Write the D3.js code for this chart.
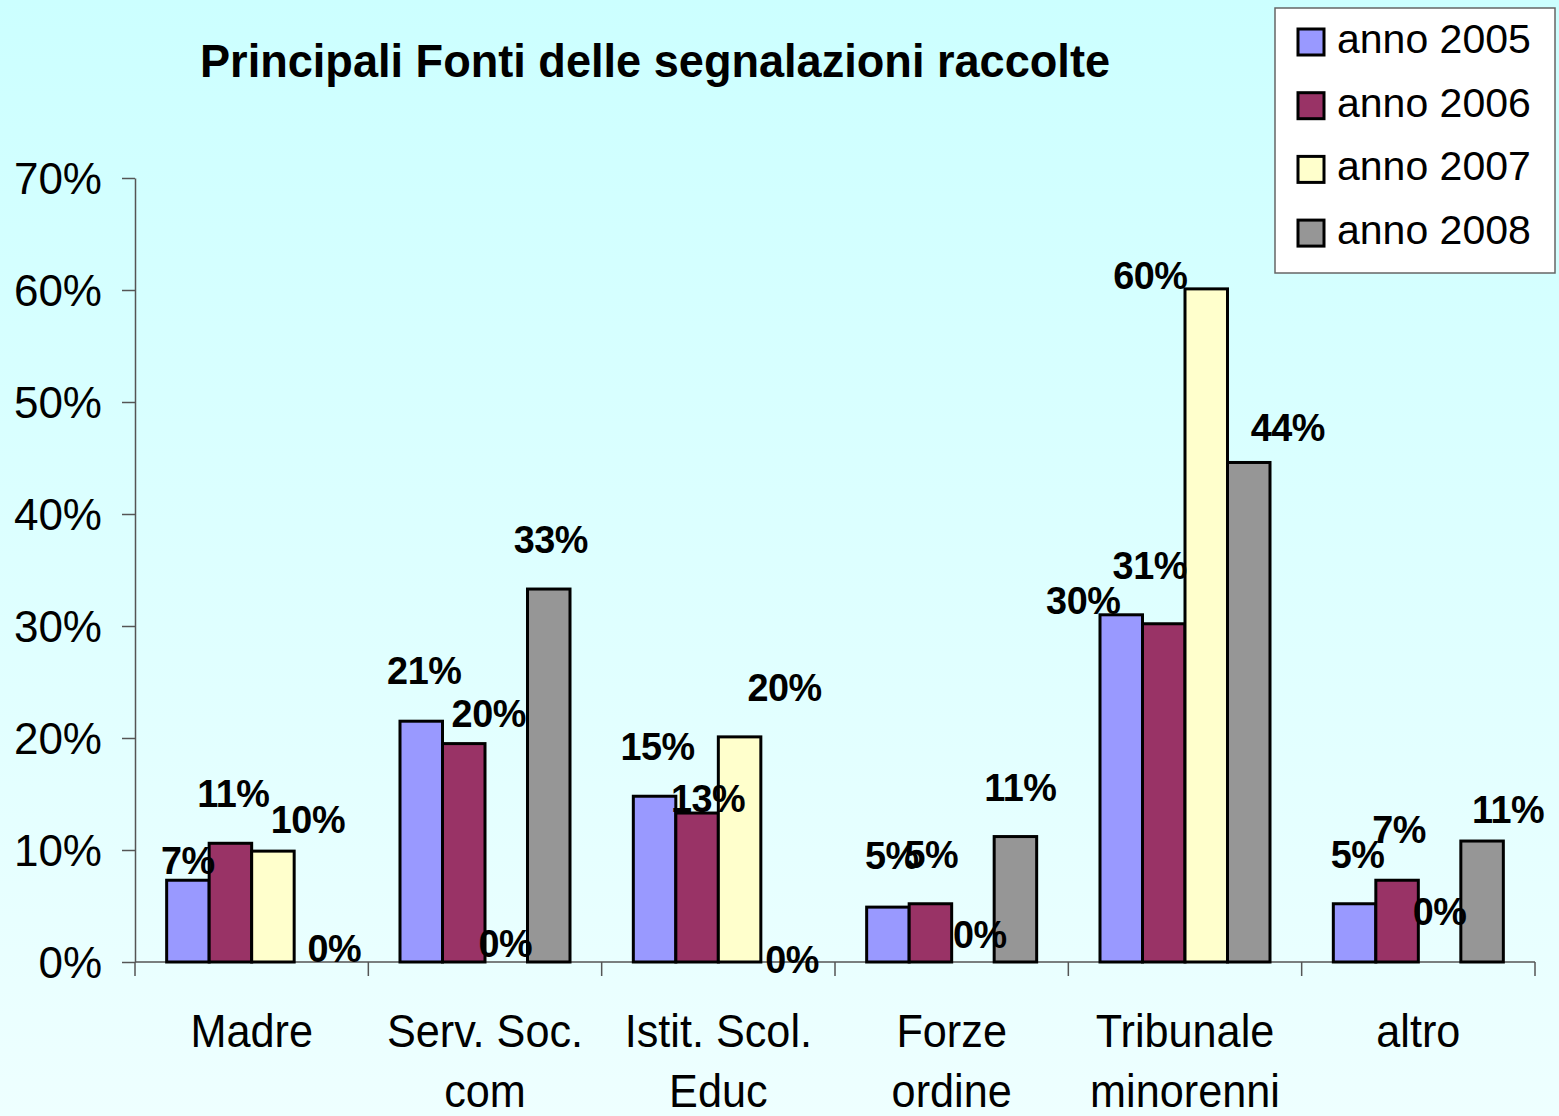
<!DOCTYPE html>
<html>
<head>
<meta charset="utf-8">
<script src="https://cdn.jsdelivr.net/npm/d3@7"></script>
<style>
  html, body { margin: 0; padding: 0; overflow: hidden; }
  svg { display: block; }
  text { font-family: "Liberation Sans", Arial, sans-serif; fill: #000; }
</style>
</head>
<body>
<script>
// ---- data ----
const categories = [["Madre"], ["Serv. Soc.", "com"], ["Istit. Scol.", "Educ"], ["Forze", "ordine"], ["Tribunale", "minorenni"], ["altro"]];
const seriesNames = ["anno 2005", "anno 2006", "anno 2007", "anno 2008"];
const s2005 = [7.3, 21.5, 14.8, 4.9, 31.0, 5.2];
const s2006 = [10.6, 19.5, 13.3, 5.2, 30.2, 7.3];
const s2007 = [9.9, 0, 20.1, 0, 60.1, 0];
const s2008 = [0, 33.3, 0, 11.2, 44.6, 10.8];
const l2005 = ["7%", "21%", "15%", "5%", "30%", "5%"];
const l2006 = ["11%", "20%", "13%", "5%", "31%", "7%"];
const l2007 = ["10%", "0%", "20%", "0%", "60%", "0%"];
const l2008 = ["0%", "33%", "0%", "11%", "44%", "11%"];
const yTicks = [0, 10, 20, 30, 40, 50, 60, 70];
const title = "Principali Fonti delle segnalazioni raccolte";

// ---- styles / layout ----
const colors = ["#9999FF", "#993366", "#FFFFCC", "#969696"];
// label nudges (dx, dy) from bar centre / bar top, per category then series
const labelNudge = [
  [[0, -6], [3, -36], [35, -18], [19, 0]],
  [[3, -37], [25, -17], [-1, -5], [2, -36]],
  [[3, -36], [11, -1], [45, -36], [10, 11]],
  [[4, -38], [1, -36], [7, -14], [5, -36]],
  [[-38, -1], [-14, -45], [-56, 0], [39, -21]],
  [[3, -36], [2, -37], [0, -37], [26, -18]]
];

const W = 1559, H = 1116;
const values = [s2005, s2006, s2007, s2008];
const labels = [l2005, l2006, l2007, l2008];

const svg = d3.select("body").append("svg").attr("width", W).attr("height", H);

const defs = svg.append("defs");
const grad = defs.append("linearGradient").attr("id", "bg").attr("x1", 0).attr("y1", 0).attr("x2", 0).attr("y2", 1);
grad.append("stop").attr("offset", "0%").attr("stop-color", "#CCFFFF");
grad.append("stop").attr("offset", "100%").attr("stop-color", "#EEFFFF");
svg.append("rect").attr("width", W).attr("height", H).attr("fill", "url(#bg)");

const x0 = d3.scaleBand().domain(d3.range(categories.length)).range([135, 1535]).paddingInner(0).paddingOuter(0);
const x1 = d3.scaleBand().domain(d3.range(seriesNames.length)).range([0, x0.bandwidth()]).paddingInner(0).paddingOuter(0.745);
const y = d3.scaleLinear().domain([0, 70]).range([962, 178]);

// title
svg.append("text")
  .attr("x", 200).attr("y", 77)
  .attr("textLength", 910).attr("lengthAdjust", "spacingAndGlyphs")
  .style("font-weight", "bold").style("font-size", "47px")
  .text(title);

// y axis
const yAxis = d3.axisLeft(y).tickValues(yTicks).tickFormat(d => d + "%").tickSize(13).tickSizeOuter(0);
const gy = svg.append("g").attr("transform", "translate(135,0)").call(yAxis);
gy.select(".domain").attr("stroke", "#555").attr("stroke-width", 1.5);
gy.selectAll(".tick line").attr("stroke", "#555").attr("stroke-width", 1.5);
gy.selectAll(".tick text").attr("x", -33).attr("dy", "0.36em")
  .style("font-size", "44px").style("font-family", "'Liberation Sans', Arial, sans-serif").attr("fill", "#000");

// x axis
const gx = svg.append("g").attr("transform", "translate(0,962)");
gx.append("line").attr("x1", x0.range()[0]).attr("x2", x0.range()[1]).attr("stroke", "#555").attr("stroke-width", 1.5);
const bounds = d3.range(categories.length + 1).map(i => i < categories.length ? x0(i) : x0.range()[1]);
gx.selectAll("line.t").data(bounds).join("line").attr("class", "t")
  .attr("x1", d => d).attr("x2", d => d).attr("y1", 0).attr("y2", 14)
  .attr("stroke", "#555").attr("stroke-width", 1.5);

// category labels
categories.forEach((lines, i) => {
  const cx = x0(i) + x0.bandwidth() / 2;
  lines.forEach((ln, k) => {
    svg.append("text")
      .attr("transform", `translate(${cx},${1047 + k * 60}) scale(0.92,1)`)
      .attr("text-anchor", "middle")
      .style("font-size", "47px")
      .text(ln);
  });
});

// bars
const groups = svg.append("g").selectAll("g").data(categories).join("g")
  .attr("transform", (d, i) => `translate(${x0(i)},0)`);
groups.each(function (d, i) {
  const g = d3.select(this);
  seriesNames.forEach((s, j) => {
    const v = values[j][i];
    if (v > 0) {
      g.append("rect")
        .attr("x", x1(j)).attr("width", x1.bandwidth())
        .attr("y", y(v)).attr("height", y(0) - y(v))
        .attr("fill", colors[j]).attr("stroke", "#000").attr("stroke-width", 3);
    }
  });
});

// data labels
const lg = svg.append("g");
categories.forEach((c, i) => {
  seriesNames.forEach((s, j) => {
    const v = values[j][i];
    const cx = x0(i) + x1(j) + x1.bandwidth() / 2 + labelNudge[i][j][0];
    const cy = y(v) + labelNudge[i][j][1];
    lg.append("text")
      .attr("transform", `translate(${cx},${cy}) scale(0.97,1)`)
      .attr("text-anchor", "middle")
      .style("font-weight", "bold").style("font-size", "39px").style("letter-spacing", "-0.5px")
      .text(labels[j][i]);
  });
});

// legend
const leg = svg.append("g");
leg.append("rect").attr("x", 1275).attr("y", 8).attr("width", 280).attr("height", 265)
  .attr("fill", "#fff").attr("stroke", "#666").attr("stroke-width", 1.5);
seriesNames.forEach((s, j) => {
  const cy = 42 + j * 63.7;
  leg.append("rect").attr("x", 1298).attr("y", cy - 13).attr("width", 26).attr("height", 26)
    .attr("fill", colors[j]).attr("stroke", "#000").attr("stroke-width", 3);
  leg.append("text").attr("x", 1337).attr("y", cy + 11)
    .style("font-size", "41px").text(s);
});
</script>
</body>
</html>
